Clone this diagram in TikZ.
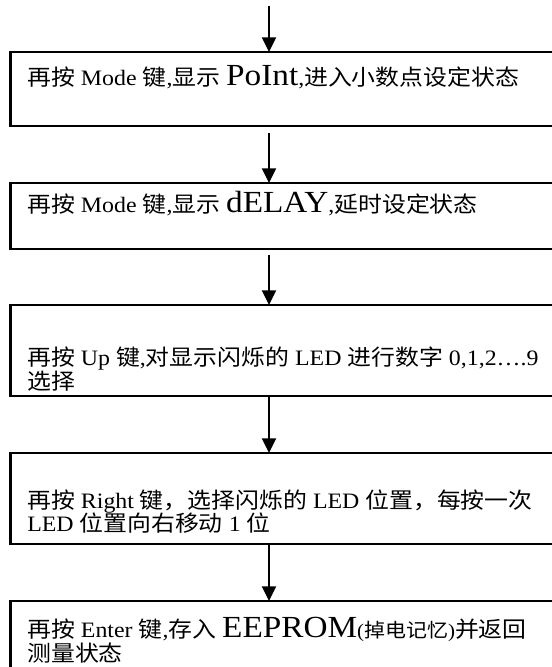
\documentclass[tikz,border=0pt]{standalone}
\usepackage{fontspec}
\setmainfont{Liberation Serif}[FakeStretch=1.085]
\newfontfamily\cjk{Noto Sans CJK SC}[FakeStretch=1.085]
\newcommand\zh[1]{{\cjk #1}}
\newcommand\bigtxt[1]{{\fontsize{23}{23}\selectfont #1}}
\newcommand\smalltxt[1]{{\fontsize{14.5}{14.5}\selectfont #1}}
\usetikzlibrary{arrows.meta}
\begin{document}
\begin{tikzpicture}[x=0.75pt,y=-0.75pt,
  box/.style={draw, line width=1.7pt, anchor=north west, minimum width=412pt, inner sep=0pt, outer sep=0pt},
  txt/.style={anchor=base west, inner sep=0pt, font=\fontsize{16.5}{18}\selectfont},
  arr/.style={-{Triangle[length=11pt,width=10.5pt]}, line width=1.5pt}]
\useasboundingbox (0,0) rectangle (551,667);
\coordinate (col) at (269,0);
\coordinate (start) at (269,6);
\node[box, minimum height=55.5pt] (b1) at (10.5,52) {};
\node[box, minimum height=49.5pt] (b2) at (10.5,183) {};
\node[box, minimum height=68.25pt] (b3) at (10.5,305) {};
\node[box, minimum height=68.25pt] (b4) at (10.5,453) {};
\node[box, minimum height=60pt] (b5) at (10.5,601) {};
\node[txt] (t1) at (27,85) {\zh{再按} Mode \zh{键},\zh{显示} \bigtxt{PoInt},\zh{进入小数点设定状态}};
\node[txt] (t2) at (27,212) {\zh{再按} Mode \zh{键},\zh{显示} \bigtxt{dELAY},\zh{延时设定状态}};
\node[txt] (t3a) at (27,365) {\zh{再按} Up \zh{键},\zh{对显示闪烁的} LED \zh{进行数字} 0,1,2\dots.9};
\node[txt] (t3b) at (27,389) {\zh{选择}};
\node[txt] (t4a) at (27,508) {\zh{再按} Right \zh{键，选择闪烁的} LED \zh{位置，每按一次}};
\node[txt] (t4b) at (27,531) {LED \zh{位置向右移动} 1 \zh{位}};
\node[txt] (t5a) at (27,637) {\zh{再按} Enter \zh{键},\zh{存入} \bigtxt{EEPROM}\smalltxt{(\zh{掉电记忆})}\zh{并返回}};
\node[txt] (t5b) at (27,661) {\zh{测量状态}};
\draw[arr] (start) -- (b1.north -| col);
\draw[arr, shorten <=5pt] (b1.south -| col) -- (b2.north -| col);
\draw[arr, shorten <=4.5pt] (b2.south -| col) -- (b3.north -| col);
\draw[arr] (b3.south -| col) -- (b4.north -| col);
\draw[arr] (b4.south -| col) -- (b5.north -| col);
\end{tikzpicture}
\end{document}
